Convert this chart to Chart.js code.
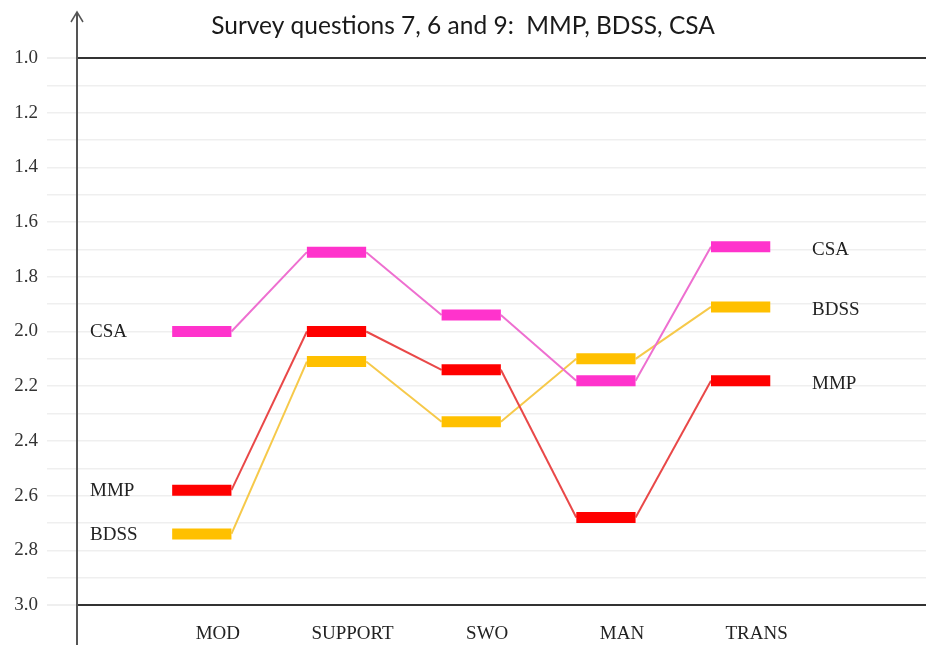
<!DOCTYPE html>
<html>
<head>
<meta charset="utf-8">
<script src="https://cdn.jsdelivr.net/npm/chart.js@4/dist/chart.umd.min.js"></script>
<style>
  html, body { margin: 0; padding: 0; background: #fff; }
  #wrap { width: 926px; height: 648px; }
</style>
</head>
<body>
<div id="wrap"><canvas id="chart" width="926" height="648"></canvas></div>
<script>
// data
const categories = ["MOD", "SUPPORT", "SWO", "MAN", "TRANS"];
const seriesNames = ["CSA", "MMP", "BDSS"];
const csaValues = [2.00, 1.71, 1.94, 2.18, 1.69];
const mmpValues = [2.58, 2.00, 2.14, 2.68, 2.18];
const bdssValues = [2.74, 2.11, 2.33, 2.10, 1.91];
const yTicks = [1.0, 1.2, 1.4, 1.6, 1.8, 2.0, 2.2, 2.4, 2.6, 2.8, 3.0];

const serif = "'Liberation Serif', 'DejaVu Serif', serif";
const halfBar = 0.22;

// each category gives two points: left and right end of the level bar
function levelPoints(values) {
  const pts = [];
  values.forEach((v, i) => {
    pts.push({ x: i - halfBar, y: v });
    pts.push({ x: i + halfBar, y: v });
  });
  return pts;
}

function makeSeries(name, values, barColor, lineColor) {
  return {
    label: name,
    data: levelPoints(values),
    borderColor: barColor,
    borderWidth: 2,
    pointRadius: 0,
    borderCapStyle: "butt",
    tension: 0,
    segment: {
      borderWidth: ctx => ctx.p0DataIndex % 2 === 0 ? 11 : 2,
      borderColor: ctx => ctx.p0DataIndex % 2 === 0 ? barColor : lineColor
    }
  };
}

// arrow axis line + series names next to the first/last bars
const decorations = {
  id: "decorations",
  afterDraw(chart) {
    const c = chart.ctx;
    const x = chart.scales.x, y = chart.scales.y;
    const ax = chart.chartArea.left;
    c.save();
    c.strokeStyle = "#555";
    c.lineWidth = 2;
    c.beginPath();
    c.moveTo(ax, 12);
    c.lineTo(ax, 645);
    c.stroke();
    c.lineWidth = 1.5;
    c.beginPath();
    c.moveTo(ax - 6, 22);
    c.lineTo(ax, 12);
    c.lineTo(ax + 6, 22);
    c.stroke();

    c.fillStyle = "#222";
    c.font = "19px " + serif;
    c.textBaseline = "middle";
    c.textAlign = "left";
    const all = [csaValues, mmpValues, bdssValues];
    all.forEach((vals, k) => {
      c.fillText(seriesNames[k], x.getPixelForValue(-0.83), y.getPixelForValue(vals[0]) + 1);
      c.fillText(seriesNames[k], x.getPixelForValue(categories.length - 1 + 0.53), y.getPixelForValue(vals[vals.length - 1]) + 3);
    });
    c.restore();
  }
};

new Chart(document.getElementById("chart"), {
  type: "line",
  data: {
    datasets: [
      makeSeries("CSA", csaValues, "#ff33cc", "#ee6fd0"),
      makeSeries("MMP", mmpValues, "#ff0000", "#e94848"),
      makeSeries("BDSS", bdssValues, "#ffc000", "#f6c94a")
    ]
  },
  options: {
    responsive: false,
    animation: false,
    layout: { padding: 0 },
    plugins: {
      legend: { display: false },
      tooltip: { enabled: false },
      title: {
        display: true,
        text: "Survey questions 7, 6 and 9:  MMP, BDSS, CSA",
        color: "#1a1a1a",
        font: { family: "Lato, 'Open Sans', sans-serif", size: 24.5, weight: "normal" },
        padding: { top: 11, bottom: 17.6 }
      }
    },
    scales: {
      x: {
        type: "linear",
        min: -0.9265,
        max: 5.376,
        afterFit: axis => { axis.height = 43; },
        afterBuildTicks: axis => { axis.ticks = categories.map((c, i) => ({ value: i })); },
        grid: { display: false, drawTicks: false },
        border: { display: false },
        ticks: {
          padding: 18,
          labelOffset: 16,
          color: "#222",
          font: { family: serif, size: 19 },
          maxRotation: 0,
          autoSkip: false,
          callback: v => categories[v] || ""
        }
      },
      y: {
        type: "linear",
        reverse: true,
        min: 1,
        max: 3,
        afterFit: axis => { axis.width = 77; },
        afterBuildTicks: axis => {
          const t = [];
          for (let k = 10; k <= 30; k++) t.push({ value: k / 10 });
          axis.ticks = t;
        },
        border: { display: false },
        grid: {
          tickLength: 30,
          tickColor: "#efefef",
          color: ctx => {
            const v = Math.round(ctx.tick.value * 10);
            return (v === 10 || v === 30) ? "#333" : "#efefef";
          },
          lineWidth: ctx => {
            const v = Math.round(ctx.tick.value * 10);
            return (v === 10 || v === 30) ? 2 : 1.5;
          }
        },
        ticks: {
          padding: 9,
          autoSkip: false,
          color: "#333",
          font: { family: serif, size: 19 },
          callback: v => {
            const hit = yTicks.find(t => Math.abs(t - v) < 1e-6);
            return hit !== undefined ? hit.toFixed(1) : "";
          }
        }
      }
    }
  },
  plugins: [decorations]
});
</script>
</body>
</html>
